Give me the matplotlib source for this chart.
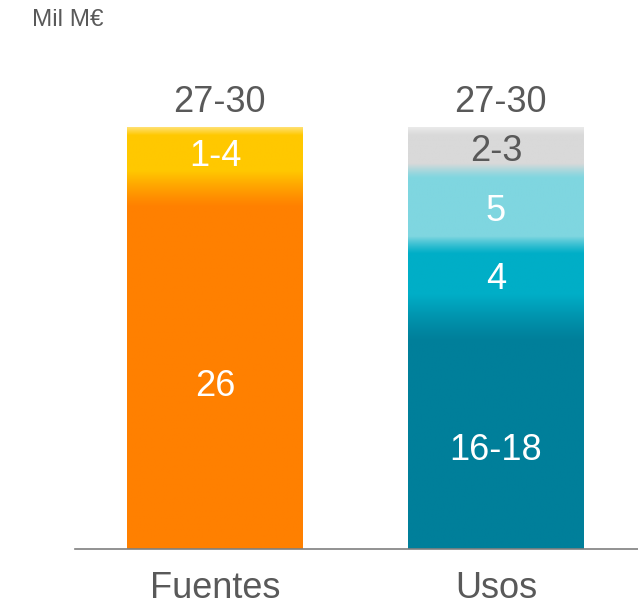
import numpy as np
import matplotlib.pyplot as plt
from matplotlib.colors import to_rgb

plt.rcParams['font.family'] = ['Liberation Sans', 'DejaVu Sans']

categories = ['Fuentes', 'Usos']
totals = ['27-30', '27-30']

# stacked segments, bottom to top
fuentes_vals = [26, 3]
fuentes_labels = ['26', '1-4']
usos_vals = [17.5, 4, 5, 2.5]
usos_labels = ['16-18', '4', '5', '2-3']

fuentes_colors = ['#FF8000', '#FFC800']
usos_colors = ['#007F9A', '#00AEC7', '#7FD6E0', '#D9D9D9']
usos_text_colors = ['white', 'white', 'white', '#595959']

# how far (in data units) each colour bleeds down into the segment below it
fuentes_fades = [2.5]
usos_fades = [3.2, 1.2, 1.0]

grey = '#595959'


def column(vals, colors, fades, n=1200):
    total = sum(vals)
    y = np.linspace(0, total, n)
    rgb = np.zeros((n, 3))
    edges = np.concatenate([[0], np.cumsum(vals)])
    for i, c in enumerate(colors):
        m = (y >= edges[i]) & (y <= edges[i + 1])
        rgb[m] = to_rgb(c)
    # soft transition just below each boundary
    for i, f in enumerate(fades):
        top = edges[i + 1]
        m = (y >= top - f) & (y < top)
        t = (y[m] - (top - f)) / f
        t = t[:, None] ** 1.2
        lo = np.array(to_rgb(colors[i]))
        hi = np.array(to_rgb(colors[i + 1]))
        rgb[m] = lo * (1 - t) + hi * t
    # light sheen on the top edge
    m = y >= total - 0.55
    t = ((y[m] - (total - 0.55)) / 0.55)[:, None]
    rgb[m] = rgb[m] * (1 - 0.45 * t) + 0.45 * t
    return rgb[::-1][:, None, :], total


fig = plt.figure(figsize=(6.38, 6.07), dpi=100)
ax = fig.add_axes([75 / 638, 58 / 607, 1 - 75 / 638, (549 - 40) / 607])

width = 0.626
stacks = [
    (fuentes_vals, fuentes_colors, fuentes_fades, fuentes_labels, ['white', 'white']),
    (usos_vals, usos_colors, usos_fades, usos_labels, usos_text_colors),
]
label_shift = [[-1.8, -0.55], [-1.95, -0.95, -0.8, -0.45]]

for x, (vals, colors, fades, labels, tcolors) in enumerate(stacks):
    img, total = column(vals, colors, fades)
    ax.imshow(img, extent=[x - width / 2, x + width / 2, 0, total],
              aspect='auto', interpolation='bilinear', zorder=2)
    bottom = 0
    for v, lab, tc, dy in zip(vals, labels, tcolors, label_shift[x]):
        ax.text(x, bottom + v / 2 + dy, lab, ha='center', va='center',
                fontsize=26, color=tc, zorder=3)
        bottom += v
    ax.text(x + 0.015, total + 1.65, totals[x], ha='center', va='center',
            fontsize=26, color=grey, zorder=3)

ax.set_xlim(-0.498, 1.505)
ax.set_ylim(0, 29 * 509 / 422)
ax.set_xticks([0, 1])
ax.set_xticklabels(categories, fontsize=26, color=grey)
ax.tick_params(axis='x', length=0, pad=16)
ax.set_yticks([])
for s in ['top', 'right', 'left']:
    ax.spines[s].set_visible(False)
ax.spines['bottom'].set_color('#7F7F7F')
ax.spines['bottom'].set_linewidth(1.2)

fig.text(32 / 638, 1 - 20 / 607, 'Mil M€', fontsize=17.5, color=grey,
         ha='left', va='center')

fig.savefig('out.png', dpi=100)
